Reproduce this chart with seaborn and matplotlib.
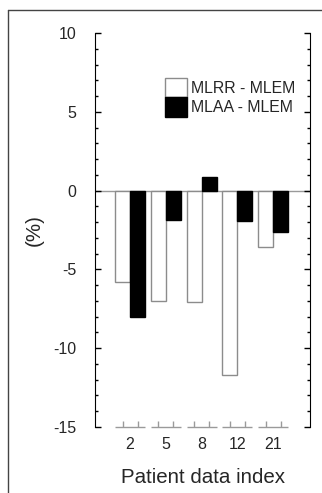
import numpy as np
import pandas as pd
import matplotlib
matplotlib.use('Agg')
import matplotlib.pyplot as plt
import seaborn as sns
from matplotlib.ticker import MultipleLocator
from matplotlib.lines import Line2D

sns.set_style('ticks')
plt.rcParams['font.family'] = ['Liberation Sans', 'DejaVu Sans']
plt.rcParams['axes.unicode_minus'] = False

patients = ['2', '5', '8', '12', '21']
mlrr_diff = [-5.8, -7.0, -7.05, -11.7, -3.6]
mlaa_diff = [-8.0, -1.85, 0.85, -1.9, -2.65]
series = ['MLRR - MLEM', 'MLAA - MLEM']

df = pd.DataFrame({
    'patient': patients * 2,
    'diff': mlrr_diff + mlaa_diff,
    'method': [series[0]] * len(patients) + [series[1]] * len(patients),
})

fig = plt.figure(figsize=(3.22, 4.93), dpi=100)
ax = fig.add_axes([0.295, 0.134, 0.668, 0.799])

sns.barplot(data=df, x='patient', y='diff', hue='method', order=patients,
            hue_order=series, palette={series[0]: 'white', series[1]: 'black'},
            width=0.84, edgecolor='#8c8c8c', linewidth=1, ax=ax)
for p in ax.containers[1]:
    p.set_edgecolor('black')

ax.set_ylim(-15, 10)
ax.set_xlim(-0.98, 5.03)
ax.axhline(0, color='#9a9a9a', lw=1, zorder=0.5)

# y axis: inward ticks on both sides
ax.yaxis.set_major_locator(MultipleLocator(5))
ax.yaxis.set_minor_locator(MultipleLocator(1))
ax.tick_params(axis='y', which='both', direction='in', left=True, right=True,
               width=1, color='black')
ax.tick_params(axis='y', which='major', length=4, labelsize=11.5, pad=13.5)
ax.tick_params(axis='y', which='minor', length=2)
ax.spines['top'].set_visible(False)
ax.spines['bottom'].set_visible(False)
ax.spines['left'].set_color('black')
ax.spines['right'].set_color('black')

# x axis: short baseline per group with ticks at bar centres
ax.tick_params(axis='x', length=0, labelsize=11.5, pad=7)
for i in range(len(patients)):
    bars = [c[i] for c in ax.containers]
    x0 = min(b.get_x() for b in bars)
    x1 = max(b.get_x() + b.get_width() for b in bars)
    ax.hlines(-15, x0, x1, color='#9a9a9a', lw=1, clip_on=False)
    centers = [b.get_x() + b.get_width() / 2 for b in bars]
    ax.vlines(centers, -15, -14.6, color='#9a9a9a', lw=1, clip_on=False)

ax.set_xlabel('Patient data index', fontsize=14.8)
ax.set_ylabel('(%)', fontsize=14.8)
ax.xaxis.set_label_coords(0.5, -0.105)
ax.yaxis.set_label_coords(-0.237, 0.5)

handles, labels = ax.get_legend_handles_labels()
handles[1].set_edgecolor('black')
ax.legend(handles, labels, loc='upper left', bbox_to_anchor=(0.326, 0.886),
          frameon=False, fontsize=11.4, handlelength=1.39, handleheight=1.5,
          handletextpad=0.25, labelspacing=0, borderpad=0, borderaxespad=0)

fig.add_artist(Line2D([8 / 322, 8 / 322], [0, 1 - 10 / 493], color='#444444', lw=1))
fig.add_artist(Line2D([8 / 322, 1], [1 - 10 / 493, 1 - 10 / 493], color='#444444', lw=1))

fig.savefig('out.png', dpi=100)
